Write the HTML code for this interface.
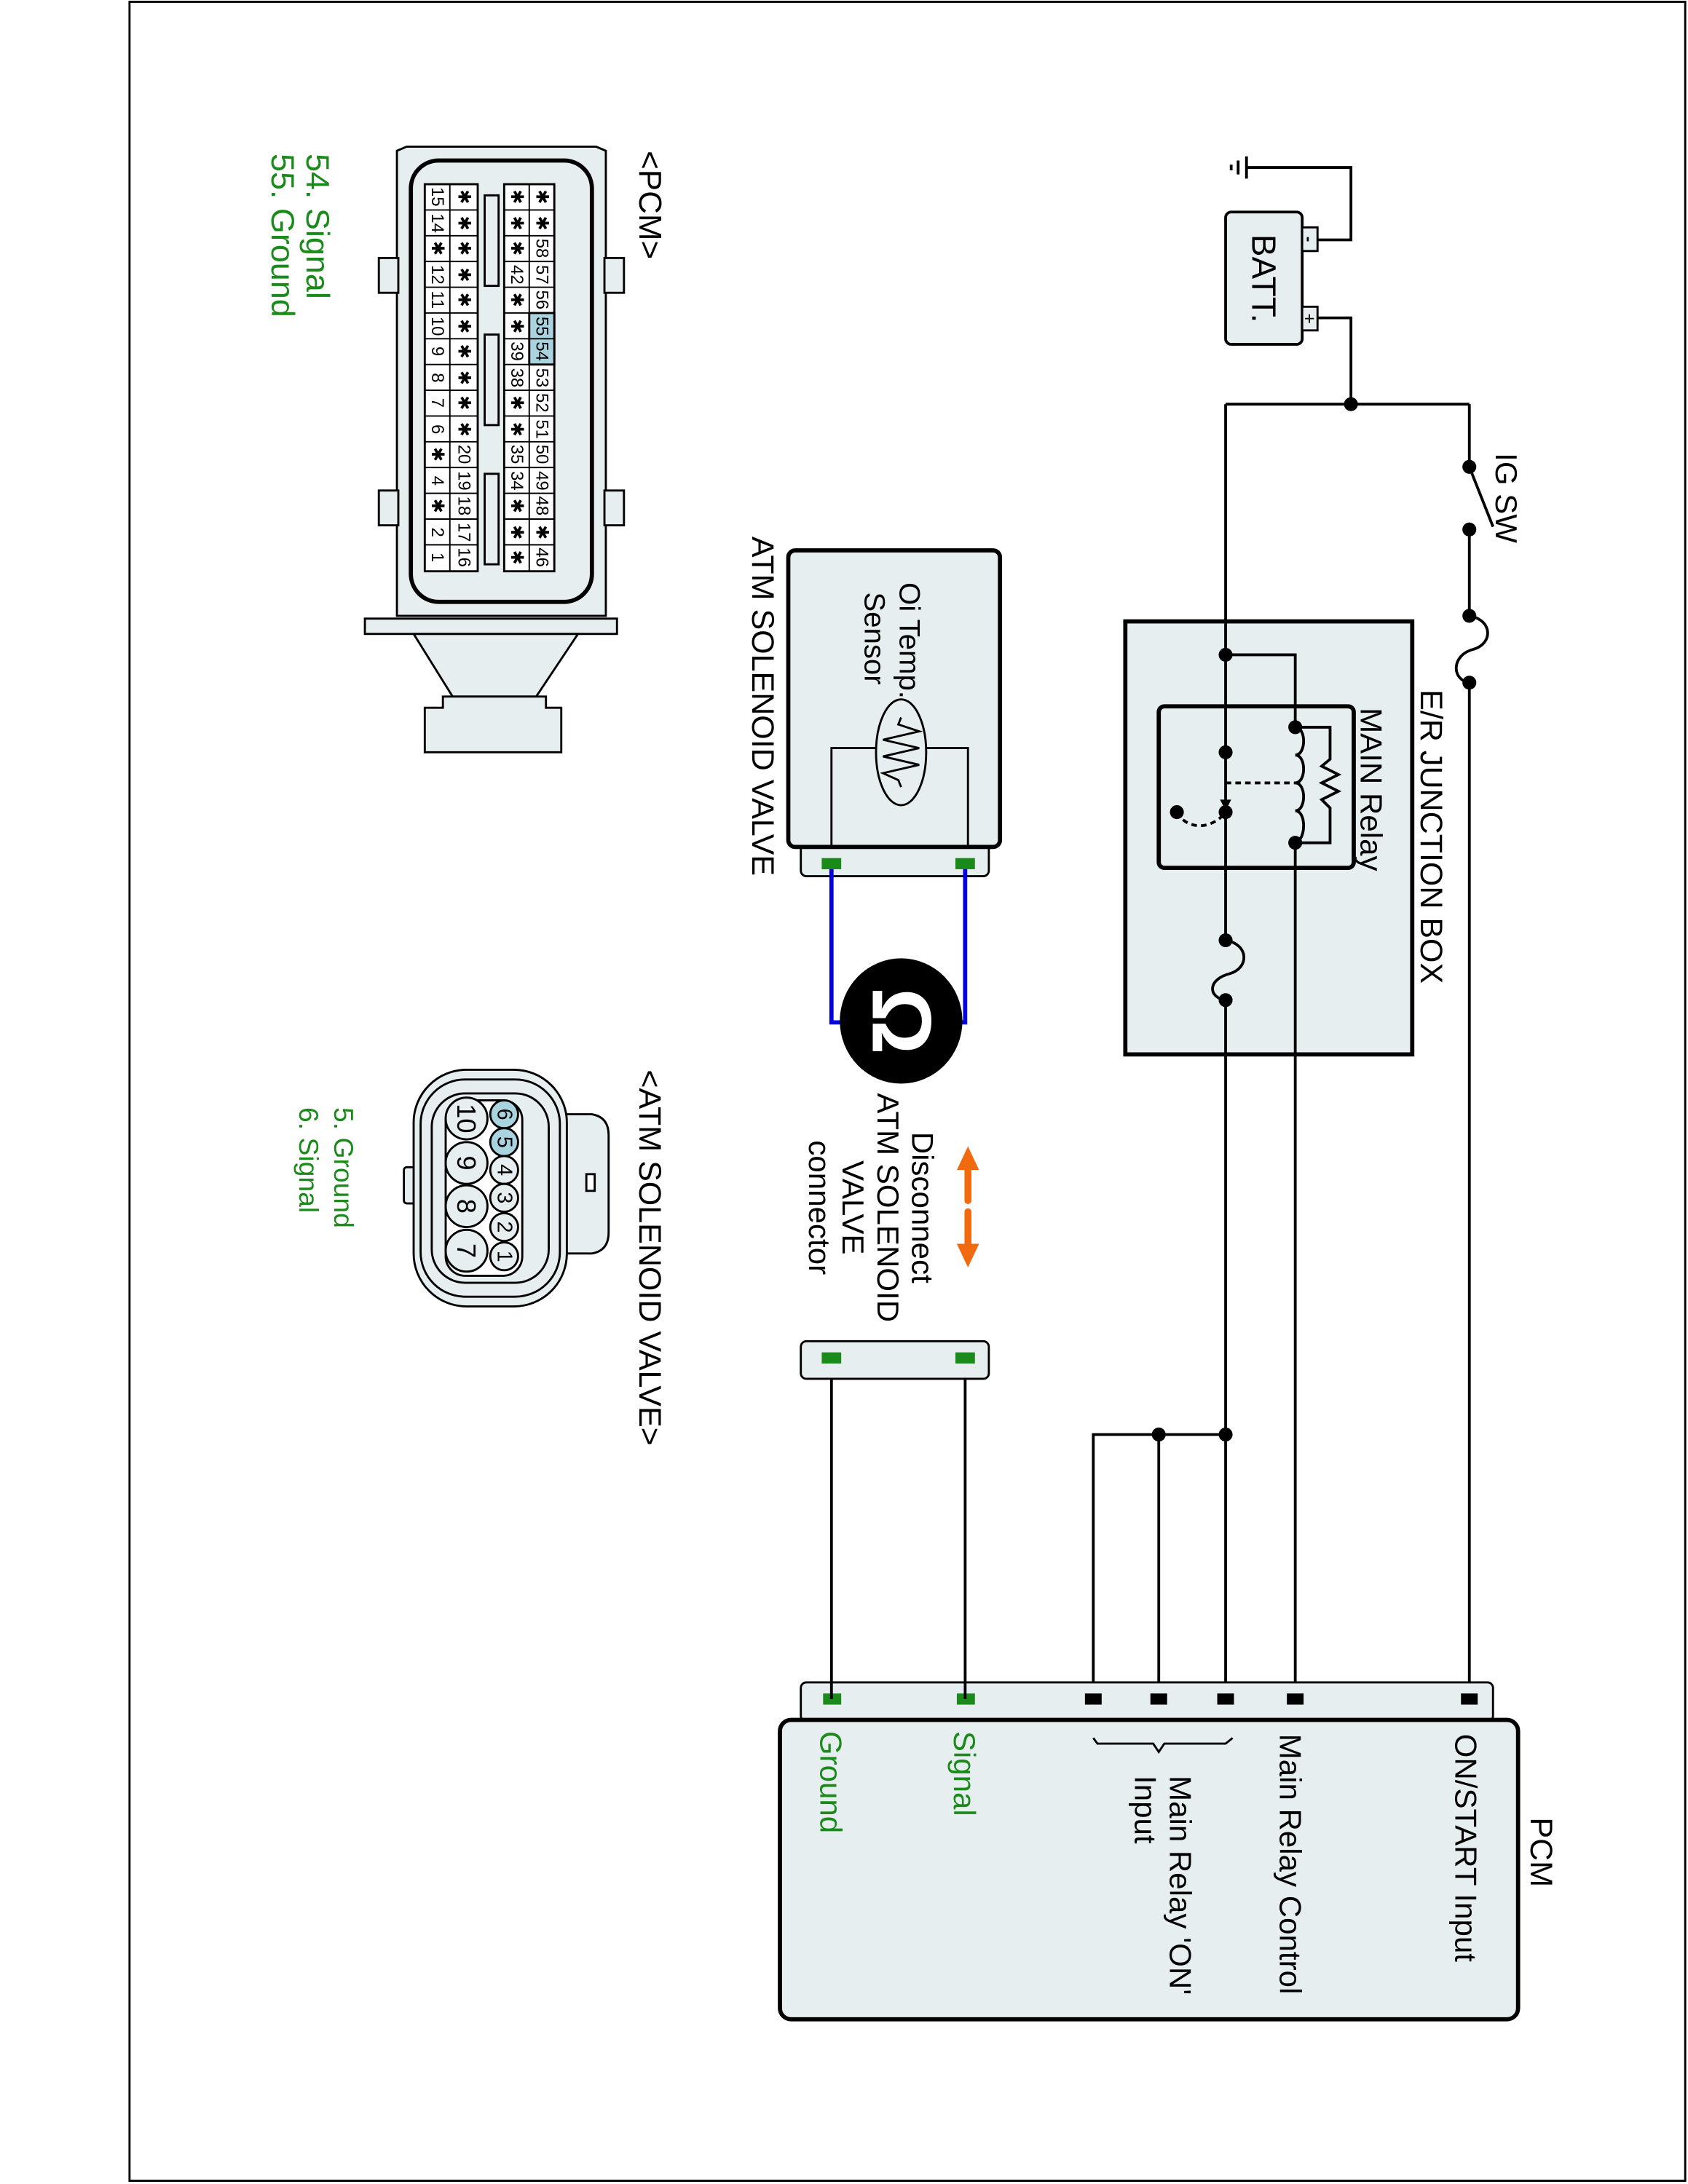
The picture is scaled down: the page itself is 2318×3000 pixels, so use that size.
<!DOCTYPE html>
<html><head><meta charset="utf-8"><style>
html,body{margin:0;padding:0;background:#fff}
svg{display:block}
text{font-family:"Liberation Sans",Arial,sans-serif}
.c{font-size:12.5px;text-anchor:middle;dominant-baseline:central}
</style></head><body>
<svg width="2318" height="3000" viewBox="0 0 1212 1568" xmlns="http://www.w3.org/2000/svg">
<rect x="0" y="0" width="1212" height="1568" fill="#fff"/>
<rect x="93" y="1" width="1117" height="1565" fill="none" stroke="#000" stroke-width="1.5"/>

<g stroke="#000" stroke-width="2" fill="none">
<line x1="895" y1="112" x2="895" y2="128"/><line x1="889" y1="115" x2="889" y2="125"/><line x1="884" y1="118" x2="884" y2="122"/>
<polyline points="895,120 970,120 970,172 946,172"/>
<polyline points="946,228 970,228 970,290"/>
<line x1="880" y1="290" x2="1055" y2="290"/>
<line x1="1055" y1="290" x2="1055" y2="335"/>
<line x1="1055" y1="335" x2="1072" y2="378"/>
<line x1="1055" y1="380" x2="1055" y2="442"/>
<path d="M1055,442 C1072,445 1072,462 1058,466 C1042,470 1042,488 1055,490"/>
<line x1="1055" y1="490" x2="1055" y2="1220"/>
</g>
<rect x="880" y="152" width="55" height="95" rx="4" fill="#e6eef0" stroke="#000" stroke-width="2"/>
<rect x="935" y="163" width="11" height="17" fill="#e6eef0" stroke="#000" stroke-width="1.5"/>
<rect x="935" y="220" width="11" height="17" fill="#e6eef0" stroke="#000" stroke-width="1.5"/>
<text transform="translate(940,171.5) rotate(90)" font-size="12" font-weight="bold" text-anchor="middle" dominant-baseline="central">-</text>
<text transform="translate(940,228.5) rotate(90)" font-size="13" text-anchor="middle" dominant-baseline="central">+</text>
<text transform="translate(899,168) rotate(90)" font-size="24">BATT.</text>
<text transform="translate(1074,325) rotate(90)" font-size="22">IG SW</text>

<rect x="808" y="446" width="206" height="311" fill="#e6eef0" stroke="#000" stroke-width="3"/>
<text transform="translate(1020,495) rotate(90)" font-size="22.5">E/R JUNCTION BOX</text>
<rect x="832" y="507" width="140" height="116" rx="4" fill="none" stroke="#000" stroke-width="3"/>
<text transform="translate(977,508) rotate(90)" font-size="22">MAIN Relay</text>
<g stroke="#000" stroke-width="2" fill="none">
<line x1="880" y1="290" x2="880" y2="675"/>
<path d="M880,675 C897,678 897,695 883,699 C867,703 867,716 880,718"/>
<line x1="880" y1="718" x2="880" y2="1220"/>
<polyline points="880,470 930,470 930,522"/>
<path d="M930,522 c8,0 8,20 0,20 c8,0 8,20 0,20 c8,0 8,20 0,20 c8,0 8,21 0,23"/>
<polyline points="930,522 955,522 955,545 949,550 961,556 949,562 961,568 949,574 955,580 955,605 930,605"/>
<line x1="930" y1="605" x2="930" y2="1220"/>
<line x1="880" y1="562" x2="930" y2="562" stroke-dasharray="4,3"/>
<path d="M845,583 C852,596 870,596 880,583" stroke-dasharray="4,3"/>
<polyline points="785,1220 785,1030 880,1030"/>
<line x1="832" y1="1030" x2="832" y2="1220"/>
</g>
<polygon points="876,574 884,574 880,582" fill="#000"/>
<g fill="#000">
<circle cx="970" cy="290" r="5"/><circle cx="1055" cy="335" r="5"/><circle cx="1055" cy="380" r="5"/>
<circle cx="1055" cy="442" r="5"/><circle cx="1055" cy="490" r="5"/>
<circle cx="880" cy="470" r="5"/><circle cx="930" cy="522" r="5"/><circle cx="930" cy="605" r="5"/>
<circle cx="880" cy="540" r="5"/><circle cx="880" cy="583" r="5"/><circle cx="845" cy="583" r="5"/>
<circle cx="880" cy="675" r="5"/><circle cx="880" cy="718" r="5"/>
<circle cx="880" cy="1030" r="5"/><circle cx="832" cy="1030" r="5"/>
</g>

<rect x="575" y="1208" width="497" height="28" rx="4" fill="#e6eef0" stroke="#000" stroke-width="1.5"/>
<rect x="560" y="1235" width="530" height="215" rx="8" fill="#e6eef0" stroke="#000" stroke-width="3"/>
<g fill="#000"><rect x="1049" y="1216" width="12" height="8"/><rect x="924" y="1216" width="12" height="8"/><rect x="874" y="1216" width="12" height="8"/><rect x="826" y="1216" width="12" height="8"/><rect x="779" y="1216" width="12" height="8"/></g>
<g fill="#1a8a1a"><rect x="687" y="1216" width="13" height="8"/><rect x="591" y="1216" width="13" height="8"/></g>
<text transform="translate(1099,1305) rotate(90)" font-size="22.5">PCM</text>
<text transform="translate(1045,1245) rotate(90)" font-size="22">ON/START Input</text>
<text transform="translate(919,1245) rotate(90)" font-size="22">Main Relay Control</text>
<text transform="translate(840,1275) rotate(90)" font-size="22">Main Relay 'ON'</text>
<text transform="translate(815,1275) rotate(90)" font-size="22">Input</text>
<path d="M785,1248 L788,1252 L828,1252 L832,1258 L836,1252 L880,1252 L885,1248" fill="none" stroke="#000" stroke-width="1.5"/>
<text transform="translate(685,1243) rotate(90)" font-size="22" fill="#1a8a1a">Signal</text>
<text transform="translate(589,1243) rotate(90)" font-size="22" fill="#1a8a1a">Ground</text>

<g stroke="#000" stroke-width="2"><line x1="597" y1="978" x2="597" y2="1220"/><line x1="693" y1="978" x2="693" y2="1220"/></g>
<rect x="575" y="963" width="135" height="27" rx="4" fill="#e6eef0" stroke="#000" stroke-width="1.5"/>
<g fill="#1a8a1a"><rect x="590" y="971" width="14" height="8"/><rect x="686" y="971" width="14" height="8"/></g>

<g stroke="#f26a0f" stroke-width="5" stroke-linecap="round"><line x1="695" y1="840" x2="695" y2="862"/><line x1="695" y1="870" x2="695" y2="893"/></g>
<g fill="#f26a0f"><polygon points="695,823 687,840 703,840"/><polygon points="695,910 687,893 703,893"/></g>
<g font-size="22" text-anchor="middle">
<text transform="translate(655,867) rotate(90)">Disconnect</text>
<text transform="translate(630,867) rotate(90)">ATM SOLENOID</text>
<text transform="translate(605,867) rotate(90)">VALVE</text>
<text transform="translate(581,867) rotate(90)">connector</text>
</g>

<rect x="575" y="600" width="135" height="29" rx="4" fill="#e6eef0" stroke="#000" stroke-width="1.5"/>
<rect x="566" y="395" width="152" height="213" rx="5" fill="#e6eef0" stroke="#000" stroke-width="3"/>
<text transform="translate(646,418) rotate(90)" font-size="21">Oi Temp.</text>
<text transform="translate(621,425) rotate(90)" font-size="21">Sensor</text>
<polyline points="597,608 597,537 695,537 695,608" fill="none" stroke="#000" stroke-width="1.5"/>
<ellipse cx="647" cy="540" rx="18" ry="38" fill="#e6eef0" stroke="#000" stroke-width="1.5"/>
<polyline points="647,515 645,520 660,525 634,531 660,537 634,543 660,549 634,555 645,560 647,565" fill="none" stroke="#000" stroke-width="1.5"/>
<g fill="#1a8a1a"><rect x="590" y="616" width="14" height="8"/><rect x="686" y="616" width="14" height="8"/></g>
<polyline points="597,624 597,734 610,734" fill="none" stroke="#0000e0" stroke-width="3"/>
<polyline points="693,624 693,734 680,734" fill="none" stroke="#0000e0" stroke-width="3"/>
<ellipse cx="647" cy="733" rx="44" ry="45" fill="#000"/>
<text transform="translate(647,733) rotate(90)" font-size="60" font-weight="bold" fill="#fff" text-anchor="middle" dominant-baseline="central">Ω</text>
<text transform="translate(540,385) rotate(90)" font-size="22.5">ATM SOLENOID VALVE</text>

<text transform="translate(459,108) rotate(90)" font-size="23">&lt;PCM&gt;</text>
<text transform="translate(220,110) rotate(90)" font-size="23.5" fill="#1a8a1a">54. Signal</text>
<text transform="translate(195,110) rotate(90)" font-size="23.5" fill="#1a8a1a">55. Ground</text>
<g fill="#e6eef0" stroke="#000" stroke-width="1.5">
<path d="M285,108 L292,105 L428,105 L435,108 L435,442 L285,442 Z"/>
<rect x="272" y="185" width="14" height="25"/><rect x="272" y="352" width="14" height="25"/>
<rect x="434" y="185" width="14" height="25"/><rect x="434" y="352" width="14" height="25"/>
<rect x="262" y="444" width="181" height="11"/>
<path d="M297,455 L415,455 L385,500 L325,500 Z"/>
<path d="M318,500 L392,500 L392,508 L403,508 L403,540 L305,540 L305,508 L318,508 Z"/>
<rect x="295" y="115" width="130" height="317" rx="20" stroke-width="3"/>
<rect x="348" y="140" width="10" height="65"/><rect x="348" y="240" width="10" height="65"/><rect x="348" y="340" width="10" height="65"/>
</g>
<g fill="#fff" stroke="#000" stroke-width="1.5">
<rect x="305" y="132" width="38" height="278"/><rect x="362" y="132" width="36" height="278"/>
<rect x="380" y="224.5" width="18" height="37" fill="#a9d3de"/>
</g>
<g stroke="#000" stroke-width="1">
<line x1="323" y1="132" x2="323" y2="410"/><line x1="380" y1="132" x2="380" y2="410"/>
<path d="M305,150.5H343M305,169H343M305,187.5H343M305,206H343M305,224.5H343M305,243H343M305,261.5H343M305,280H343M305,298.5H343M305,317H343M305,335.5H343M305,354H343M305,372.5H343M305,391H343"/>
<path d="M362,150.5H398M362,169H398M362,187.5H398M362,206H398M362,224.5H398M362,243H398M362,261.5H398M362,280H398M362,298.5H398M362,317H398M362,335.5H398M362,354H398M362,372.5H398M362,391H398"/>
</g>
<g>
<text class="c" transform="translate(314,141) rotate(90)">15</text><text class="c" transform="translate(314,160) rotate(90)">14</text><text class="c" transform="translate(314,178) rotate(90)">✱</text><text class="c" transform="translate(314,197) rotate(90)">12</text><text class="c" transform="translate(314,215) rotate(90)">11</text><text class="c" transform="translate(314,234) rotate(90)">10</text><text class="c" transform="translate(314,252) rotate(90)">9</text><text class="c" transform="translate(314,271) rotate(90)">8</text><text class="c" transform="translate(314,289) rotate(90)">7</text><text class="c" transform="translate(314,308) rotate(90)">6</text><text class="c" transform="translate(314,326) rotate(90)">✱</text><text class="c" transform="translate(314,345) rotate(90)">4</text><text class="c" transform="translate(314,363) rotate(90)">✱</text><text class="c" transform="translate(314,382) rotate(90)">2</text><text class="c" transform="translate(314,400) rotate(90)">1</text>
<text class="c" transform="translate(333,141) rotate(90)">✱</text><text class="c" transform="translate(333,160) rotate(90)">✱</text><text class="c" transform="translate(333,178) rotate(90)">✱</text><text class="c" transform="translate(333,197) rotate(90)">✱</text><text class="c" transform="translate(333,215) rotate(90)">✱</text><text class="c" transform="translate(333,234) rotate(90)">✱</text><text class="c" transform="translate(333,252) rotate(90)">✱</text><text class="c" transform="translate(333,271) rotate(90)">✱</text><text class="c" transform="translate(333,289) rotate(90)">✱</text><text class="c" transform="translate(333,308) rotate(90)">✱</text><text class="c" transform="translate(333,326) rotate(90)">20</text><text class="c" transform="translate(333,345) rotate(90)">19</text><text class="c" transform="translate(333,363) rotate(90)">18</text><text class="c" transform="translate(333,382) rotate(90)">17</text><text class="c" transform="translate(333,400) rotate(90)">16</text>
<text class="c" transform="translate(371,141) rotate(90)">✱</text><text class="c" transform="translate(371,160) rotate(90)">✱</text><text class="c" transform="translate(371,178) rotate(90)">✱</text><text class="c" transform="translate(371,197) rotate(90)">42</text><text class="c" transform="translate(371,215) rotate(90)">✱</text><text class="c" transform="translate(371,234) rotate(90)">✱</text><text class="c" transform="translate(371,252) rotate(90)">39</text><text class="c" transform="translate(371,271) rotate(90)">38</text><text class="c" transform="translate(371,289) rotate(90)">✱</text><text class="c" transform="translate(371,308) rotate(90)">✱</text><text class="c" transform="translate(371,326) rotate(90)">35</text><text class="c" transform="translate(371,345) rotate(90)">34</text><text class="c" transform="translate(371,363) rotate(90)">✱</text><text class="c" transform="translate(371,382) rotate(90)">✱</text><text class="c" transform="translate(371,400) rotate(90)">✱</text>
<text class="c" transform="translate(389,141) rotate(90)">✱</text><text class="c" transform="translate(389,160) rotate(90)">✱</text><text class="c" transform="translate(389,178) rotate(90)">58</text><text class="c" transform="translate(389,197) rotate(90)">57</text><text class="c" transform="translate(389,215) rotate(90)">56</text><text class="c" transform="translate(389,234) rotate(90)">55</text><text class="c" transform="translate(389,252) rotate(90)">54</text><text class="c" transform="translate(389,271) rotate(90)">53</text><text class="c" transform="translate(389,289) rotate(90)">52</text><text class="c" transform="translate(389,308) rotate(90)">51</text><text class="c" transform="translate(389,326) rotate(90)">50</text><text class="c" transform="translate(389,345) rotate(90)">49</text><text class="c" transform="translate(389,363) rotate(90)">48</text><text class="c" transform="translate(389,382) rotate(90)">✱</text><text class="c" transform="translate(389,400) rotate(90)">46</text>
</g>

<text transform="translate(459,768) rotate(90)" font-size="22.5">&lt;ATM SOLENOID VALVE&gt;</text>
<text transform="translate(240,795) rotate(90)" font-size="19.5" fill="#1a8a1a">5. Ground</text>
<text transform="translate(215,795) rotate(90)" font-size="19.5" fill="#1a8a1a">6. Signal</text>
<g fill="#e6eef0" stroke="#000" stroke-width="1.5">
<path d="M405,800 L425,800 Q437,802 437,815 L437,885 Q437,898 425,900 L405,900 Z"/>
<rect x="290" y="838" width="12" height="26" rx="2"/>
<rect x="297" y="768" width="110" height="170" rx="38"/>
<rect x="302" y="775" width="100" height="156" rx="32"/>
<rect x="310" y="785" width="84" height="136" rx="24"/>
<rect x="320" y="790" width="55" height="126" rx="14" fill="#fff"/>
<rect x="421" y="843" width="6" height="12" fill="#fff"/>
</g>
<g stroke="#000" stroke-width="1.5">
<circle cx="335" cy="803" r="15" fill="#e6eef0"/><circle cx="335" cy="835" r="15" fill="#e6eef0"/><circle cx="335" cy="866" r="15" fill="#e6eef0"/><circle cx="335" cy="898" r="15" fill="#e6eef0"/>
<circle cx="362" cy="800" r="10" fill="#a9d3de"/><circle cx="362" cy="820" r="10" fill="#a9d3de"/><circle cx="362" cy="840" r="10" fill="#e6eef0"/><circle cx="362" cy="860" r="10" fill="#e6eef0"/><circle cx="362" cy="881" r="10" fill="#e6eef0"/><circle cx="362" cy="902" r="10" fill="#e6eef0"/>
</g>
<g font-size="15" text-anchor="middle" dominant-baseline="central">
<text transform="translate(362,800) rotate(90)">6</text><text transform="translate(362,820) rotate(90)">5</text><text transform="translate(362,840) rotate(90)">4</text><text transform="translate(362,860) rotate(90)">3</text><text transform="translate(362,881) rotate(90)">2</text><text transform="translate(362,902) rotate(90)">1</text>
</g>
<g font-size="19" text-anchor="middle" dominant-baseline="central">
<text transform="translate(335,803) rotate(90)">10</text><text transform="translate(335,835) rotate(90)">9</text><text transform="translate(335,866) rotate(90)">8</text><text transform="translate(335,898) rotate(90)">7</text>
</g>
</svg>
</body></html>
